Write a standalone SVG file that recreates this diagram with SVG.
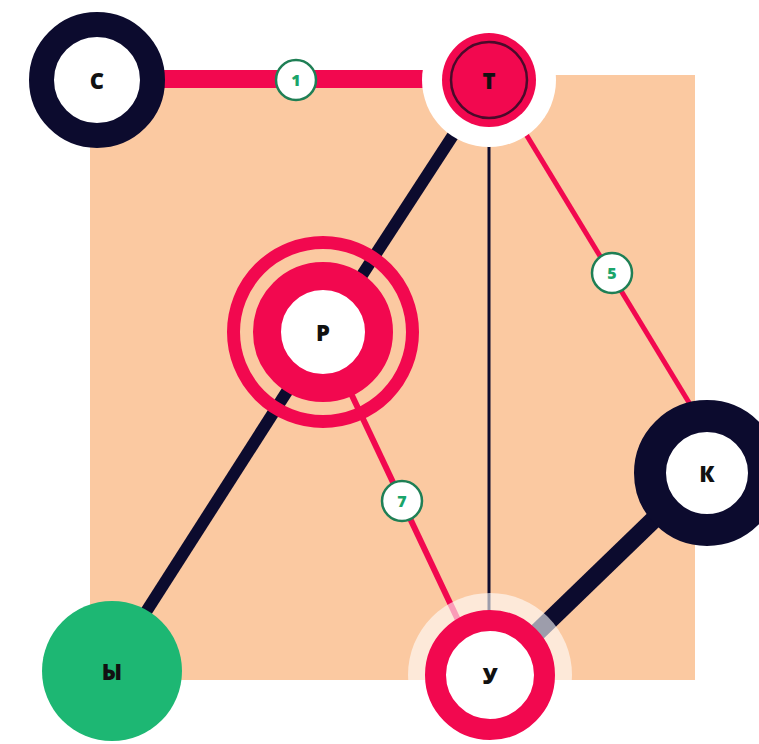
<svg xmlns="http://www.w3.org/2000/svg" width="759" height="744" viewBox="0 0 759 744">
<style>
.lbl{font-family:"Open Sans","Liberation Sans",sans-serif;font-weight:800;font-size:22px;fill:#111111;text-anchor:middle;dominant-baseline:central}
.el circle{fill:#ffffff;stroke:#1f7f55;stroke-width:2.5}
.el text{font-family:"Open Sans","Liberation Sans",sans-serif;font-weight:800;font-size:16px;fill:#1aa56a;text-anchor:middle;dominant-baseline:central}
.dark{stroke:#0c0b2e;fill:none}
.red{stroke:#f2084f;fill:none}
</style>
<rect x="90" y="75" width="605" height="605" fill="#fbc9a1"/>
<g id="connectors">
  <line class="red" x1="97" y1="79" x2="489" y2="79" stroke-width="18"/>
  <line class="dark" x1="489" y1="80" x2="325" y2="332" stroke-width="12"/>
  <line class="dark" x1="325" y1="332" x2="112" y2="665" stroke-width="12"/>
  <line class="dark" x1="489" y1="80" x2="489" y2="675" stroke-width="3"/>
  <line class="red" x1="493" y1="80" x2="730" y2="470" stroke-width="5"/>
  <line class="red" x1="322" y1="332" x2="484" y2="675" stroke-width="6"/>
  <line class="dark" x1="706" y1="469" x2="490" y2="678" stroke-width="18"/>
  <g class="el"><circle cx="296" cy="80" r="20"/><text x="296" y="80">1</text></g>
  <g class="el"><circle cx="612" cy="273" r="20"/><text x="612" y="273">5</text></g>
  <g class="el"><circle cx="402" cy="501" r="20"/><text x="402" y="501">7</text></g>
</g>
<g id="node-C">
  <circle cx="97" cy="80" r="55.5" fill="#ffffff" stroke="#0c0b2e" stroke-width="25"/>
  <text class="lbl" x="97" y="80">С</text>
</g>
<g id="node-T">
  <circle cx="489" cy="80" r="67" fill="#ffffff"/>
  <circle cx="489" cy="80" r="47" fill="#f2084f"/>
  <circle cx="489" cy="80" r="38" fill="none" stroke="#4a0a2a" stroke-width="2.5"/>
  <text class="lbl" x="489" y="80">Т</text>
</g>
<g id="node-P">
  <circle cx="323" cy="332" r="89.5" fill="none" stroke="#f2084f" stroke-width="13"/>
  <circle cx="323" cy="332" r="56" fill="#ffffff" stroke="#f2084f" stroke-width="28"/>
  <text class="lbl" x="323" y="332">Р</text>
</g>
<g id="node-K">
  <circle cx="707" cy="473" r="57" fill="#ffffff" stroke="#0c0b2e" stroke-width="32"/>
  <text class="lbl" x="707" y="473">К</text>
</g>
<g id="node-U">
  <circle cx="490" cy="675" r="82" fill="#ffffff" fill-opacity="0.6"/>
  <circle cx="490" cy="675" r="54.5" fill="#ffffff" stroke="#f2084f" stroke-width="21"/>
  <text class="lbl" x="490" y="675">У</text>
</g>
<g id="node-Y">
  <circle cx="112" cy="671" r="70" fill="#1db773"/>
  <text class="lbl" x="112" y="671">Ы</text>
</g>
</svg>
